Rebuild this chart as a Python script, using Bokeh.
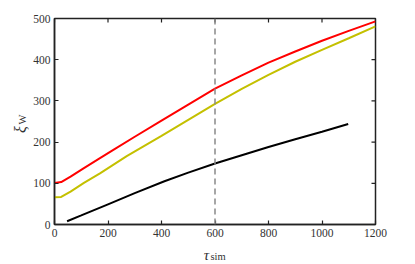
import numpy as np
from bokeh.plotting import figure
from bokeh.models import Span, Label, Range1d, FixedTicker
from bokeh.layouts import row, column
from bokeh.embed import file_html
from bokeh.resources import INLINE

# data
red_x = [0, 25, 60, 110, 170, 220, 300, 400, 500, 600, 700, 800, 900, 1000, 1100, 1200]
red_y = [101, 103, 116, 137, 161, 181, 213, 252, 291, 330, 362, 393, 420, 446, 470, 493]
yel_x = [0, 25, 60, 110, 170, 270, 400, 500, 600, 700, 800, 900, 1000, 1100, 1200]
yel_y = [66, 67, 80, 101, 124, 166, 215, 254, 293, 329, 363, 395, 424, 452, 481]
blk_x = [47, 100, 200, 300, 411, 500, 600, 700, 800, 900, 1000, 1098]
blk_y = [8, 22, 49, 76, 105, 126, 148, 168, 188, 207, 225, 244]
x_ticks = [0, 200, 400, 600, 800, 1000, 1200]
y_ticks = [0, 100, 200, 300, 400, 500]
vline_x = 600
x_label_main, x_label_sub = "τ", "sim"
y_label_main, y_label_sub = "ξ", "W"

FONT = "Liberation Serif"
AX = "#222222"
TXT = "#333333"

p = figure(width=377, height=246, output_backend="svg", toolbar_location=None,
           x_range=Range1d(0, 1200), y_range=Range1d(0, 500),
           frame_width=321, frame_height=206,
           min_border_left=24, min_border_top=18, min_border_right=32, min_border_bottom=22)
p.grid.visible = False
p.outline_line_color = AX
p.outline_line_width = 1.5
p.background_fill_color = "white"
p.border_fill_color = "white"

for ax, ticks in ((p.xaxis[0], x_ticks), (p.yaxis[0], y_ticks)):
    ax.ticker = FixedTicker(ticks=ticks)
    ax.major_tick_in = 4
    ax.major_tick_out = 0
    ax.minor_tick_line_color = None
    ax.axis_line_color = AX
    ax.axis_line_width = 1.5
    ax.major_tick_line_color = AX
    ax.major_tick_line_width = 1.2
    ax.major_label_text_font = FONT
    ax.major_label_text_font_size = "11.5px"
    ax.major_label_text_color = TXT
    ax.major_label_standoff = 4

# mirrored ticks on top and right edges
p.ray(x=x_ticks, y=[max(y_ticks)] * len(x_ticks), length=4, length_units="screen",
      angle=-np.pi / 2, line_color=AX, line_width=1.2)
p.ray(x=[max(x_ticks)] * len(y_ticks), y=y_ticks, length=4, length_units="screen",
      angle=np.pi, line_color=AX, line_width=1.2)

p.line(red_x, red_y, line_color="#ff0000", line_width=2)
p.line(yel_x, yel_y, line_color="#c4c000", line_width=2)
p.line(blk_x, blk_y, line_color="black", line_width=2)

p.add_layout(Span(location=vline_x, dimension="height", line_color="#888888",
                  line_width=1.5, line_dash="6 4"))


def blank(w, h):
    f = figure(width=w, height=h, output_backend="svg", toolbar_location=None,
               x_range=Range1d(0, 1), y_range=Range1d(0, 1),
               min_border=0, outline_line_color=None)
    f.axis.visible = False
    f.grid.visible = False
    f.border_fill_color = "white"
    f.background_fill_color = "white"
    return f


# x axis label strip (below the main figure)
xl = blank(377, 18)
xl.add_layout(Label(x=176, y=8, x_units="canvas", y_units="canvas", text=x_label_main,
                    text_font=FONT, text_font_size="15px", text_font_style="italic",
                    text_align="center", text_baseline="middle", text_color=TXT))
xl.add_layout(Label(x=180, y=10, x_units="canvas", y_units="canvas", text=x_label_sub,
                    text_font=FONT, text_font_size="10.5px", text_align="left",
                    text_baseline="middle", text_color=TXT))

# y axis label strip (left of the main figure)
yl = blank(30, 246)
yl.add_layout(Label(x=20, y=129, x_units="canvas", y_units="canvas", text=y_label_main,
                    text_font=FONT, text_font_size="16px", text_font_style="italic",
                    text_align="center", text_baseline="middle", angle=np.pi / 2,
                    text_color=TXT))
yl.add_layout(Label(x=22, y=124, x_units="canvas", y_units="canvas", text=y_label_sub,
                    text_font=FONT, text_font_size="10.5px", text_align="left",
                    text_baseline="middle", angle=np.pi / 2, text_color=TXT))

layout = row(yl, column(p, xl))
open("out.html", "w").write(file_html(layout, INLINE))
